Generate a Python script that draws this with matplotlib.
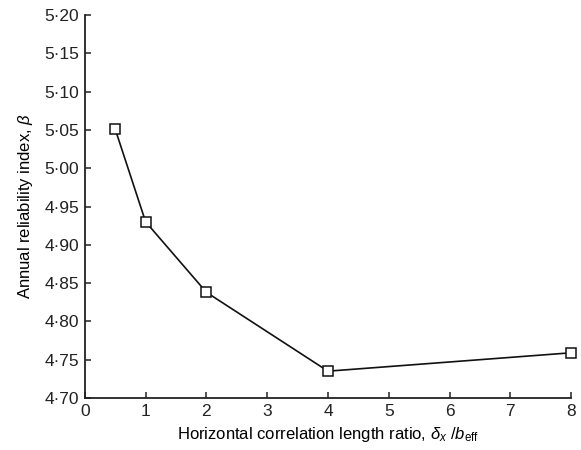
import matplotlib
matplotlib.use("Agg")
import matplotlib.pyplot as plt
from matplotlib.ticker import FuncFormatter

plt.rcParams['font.family'] = ['Liberation Sans', 'DejaVu Sans']
plt.rcParams['mathtext.fontset'] = 'custom'
plt.rcParams['mathtext.rm'] = 'Liberation Sans'
plt.rcParams['mathtext.it'] = 'Liberation Sans:italic'

ratio = [0.5, 1, 2, 4, 8]
beta = [5.051, 4.930, 4.838, 4.735, 4.759]
xticks = [0, 1, 2, 3, 4, 5, 6, 7, 8]
yticks = [4.70, 4.75, 4.80, 4.85, 4.90, 4.95, 5.00, 5.05, 5.10, 5.15, 5.20]

fig = plt.figure(figsize=(5.81, 4.5), dpi=100)
ax = fig.add_axes([0.146, 0.1156, 0.837, 0.851])
ax.plot(ratio, beta, color='#111111', lw=1.2, marker='s', ms=6.5,
        mfc='white', mec='#111111', mew=1.1, clip_on=False, zorder=3)
ax.set_xlim(0, 8)
ax.set_ylim(4.70, 5.20)
ax.set_xticks(xticks)
ax.set_yticks(yticks)
ax.yaxis.set_major_formatter(FuncFormatter(lambda v, p: f"{v:.2f}".replace('.', '\u00b7')))
for s in ['top', 'right']:
    ax.spines[s].set_visible(False)
for s in ['left', 'bottom']:
    ax.spines[s].set_linewidth(1.3)
    ax.spines[s].set_color('#222222')
ax.tick_params(direction='in', length=4, width=1.1, labelsize=12.5, colors='#222222', pad=4)
ax.set_xlabel(r"Horizontal correlation length ratio, $\it{\delta_x}$ /$\it{b}_{\rm eff}$", fontsize=12, labelpad=5)
ax.set_ylabel(r"Annual reliability index, $\it{\beta}$", fontsize=12, labelpad=7)
fig.savefig("out.png", dpi=100)
